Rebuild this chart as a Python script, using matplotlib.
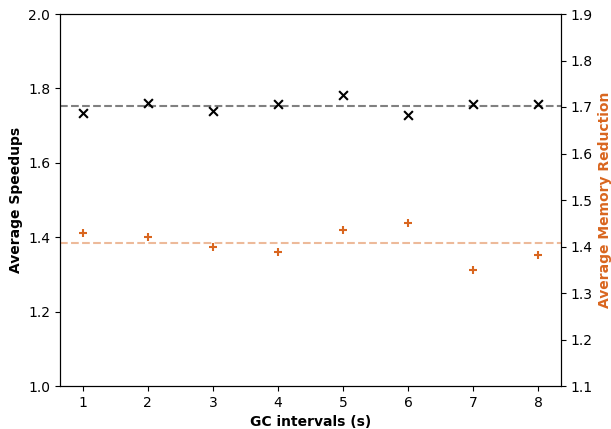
import matplotlib
matplotlib.use("Agg")
import matplotlib.pyplot as plt
import numpy as np

intervals = [1, 2, 3, 4, 5, 6, 7, 8]
speedups = [1.733, 1.760, 1.738, 1.758, 1.782, 1.728, 1.758, 1.758]
mem_reduction = [1.430, 1.421, 1.398, 1.389, 1.435, 1.451, 1.350, 1.382]

orange = "#d9661f"

fig = plt.figure(figsize=(6.11, 4.29), dpi=100)
ax = fig.add_axes([60/611, 1 - 386/429, (561 - 60)/611, (386 - 14)/429])
ax2 = ax.twinx()

ax.scatter(intervals, speedups, marker="x", color="black", s=40, linewidths=1.5, zorder=3)
ax.axhline(np.mean(speedups), color="gray", linestyle="--", linewidth=1.5)
ax2.scatter(intervals, mem_reduction, marker="+", color=orange, s=36, linewidths=1.5, zorder=3)
ax2.axhline(np.mean(mem_reduction), color=orange, alpha=0.45, linestyle="--", linewidth=1.5)

ax.set_ylim(1.0, 2.0)
ax2.set_ylim(1.1, 1.9)
ax.set_xticks(intervals)
ax.set_xlabel("GC intervals (s)", fontweight="bold")
ax.set_ylabel("Average Speedups", fontweight="bold")
ax2.set_ylabel("Average Memory Reduction", fontweight="bold", color=orange)

fig.savefig("out.png", dpi=100)
